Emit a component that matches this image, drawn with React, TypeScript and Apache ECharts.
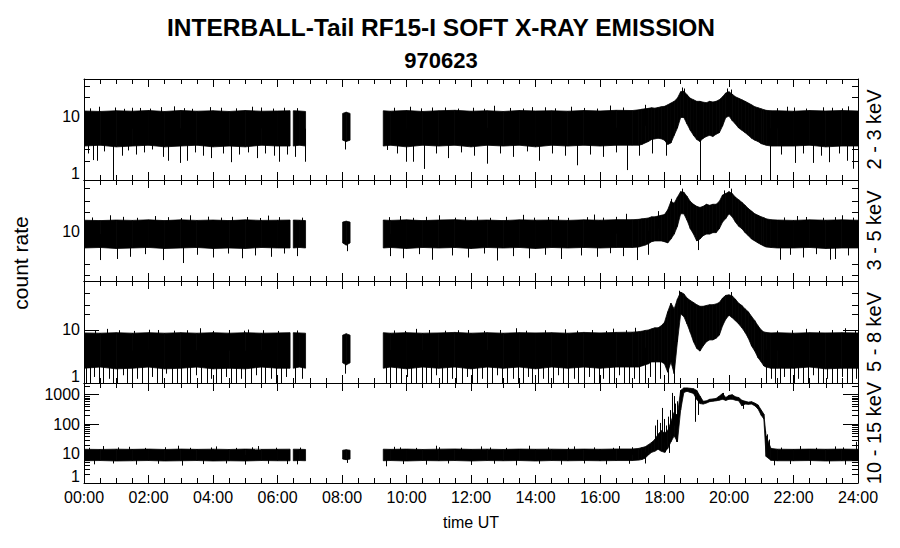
import React, { useEffect, useRef } from "react";
import * as echarts from "echarts";

// ---------- data (hours UT; null = data gap) ----------
const T = [
  0, 0.5, 1, 1.5, 2, 2.5, 3, 3.5, 4, 4.5, 5, 5.5, 6, 6.39,
  null,
  6.49, 6.68, 6.87,
  null,
  8.02, 8.13, 8.25,
  null,
  9.28, 9.5, 10, 10.5, 11, 11.5, 12, 12.5, 13, 13.5, 14, 14.5, 15, 15.5, 16, 16.5, 17,
  17.2, 17.3, 17.4, 17.5, 17.6, 17.7, 17.8, 17.9, 18.0, 18.1,
  18.2, 18.3, 18.4, 18.5, 18.6, 18.7, 18.8, 18.9, 19.0, 19.1,
  19.2, 19.3, 19.4, 19.5, 19.6, 19.7, 19.8, 19.9, 20.0, 20.1,
  20.2, 20.3, 20.4, 20.5, 20.6, 20.7, 20.8, 20.9, 21.0, 21.08, 21.15, 21.3,
  21.5, 22, 22.5, 23, 23.5, 24,
];

// 2 - 3 keV
const P1_HI = [
  12, 11.8, 12.1, 11.9, 12.2, 11.8, 12.2, 11.9, 12.1, 11.8, 12.2, 11.9, 12, 12.1,
  null,
  12.1, 12, 11.8,
  null,
  11, 11.5, 11,
  null,
  12.1, 11.9, 12.2, 11.8, 12.1, 12.3, 11.9, 12.1, 11.8, 12.2, 12, 12.1, 11.9, 12.2, 12, 12.3, 12.2,
  12.5, 12.8, 13, 13.2, 13.5, 13.3, 13.6, 14, 14.2, 15,
  16, 17, 19, 24, 24.5, 21.5, 19, 18, 17, 17,
  16.5, 16.2, 17, 16.6, 17, 18, 20, 23, 24, 22,
  20, 19, 18, 17, 16, 15, 14, 13.5, 13, 12.6, 12.3, 12.1,
  12.1, 11.9, 12.2, 12, 12.2, 12,
];
const P1_LO = [
  3.4, 3.5, 3.3, 3.4, 3.5, 3.3, 3.4, 3.5, 3.3, 3.4, 3.3, 3.5, 3.4, 3.4,
  null,
  3.4, 3.5, 3.4,
  null,
  4.2, 4, 4.2,
  null,
  3.4, 3.5, 3.3, 3.5, 3.4, 3.5, 3.3, 3.5, 3.4, 3.5, 3.3, 3.5, 3.4, 3.5, 3.4, 3.5, 3.5,
  3.5, 3.6, 3.8, 4, 4.3, 4.4, 4.5, 4.4, 4.2, 3.6,
  3.8, 5, 6.5, 9.5, 9.5, 7.5, 6, 5, 4.3, 4,
  4.5, 4.8, 5, 4.8, 5.2, 5.5, 7, 9.5, 10, 8.5,
  7.5, 6.5, 6, 5.5, 5, 4.5, 4.2, 4, 3.7, 3.6, 3.5, 3.4,
  3.4, 3.4, 3.5, 3.3, 3.4, 3.4,
];

// 3 - 5 keV
const P2_HI = [
  15, 14.8, 15.1, 14.9, 15.2, 14.8, 15.2, 14.9, 15.1, 14.8, 15.2, 14.9, 15, 15.1,
  null,
  15.1, 15, 14.8,
  null,
  14, 14.5, 14,
  null,
  15.1, 14.9, 15.2, 14.8, 15.1, 15.3, 14.9, 15.1, 14.8, 15.2, 15, 15.1, 14.9, 15.2, 15, 15.3, 15.3,
  15.5, 15.8, 16, 16.3, 17, 17, 17.5, 18, 18.5, 22,
  30, 28, 35, 43, 42, 36, 30, 27, 25, 24,
  25, 27, 26, 27, 27, 30, 38, 40, 43, 40,
  35, 32, 29, 26, 23, 21, 19, 18, 17, 16.5, 15.8, 15.3,
  15.1, 14.9, 15.2, 15, 15.2, 15,
];
const P2_LO = [
  5.4, 5.5, 5.3, 5.4, 5.5, 5.3, 5.4, 5.5, 5.3, 5.4, 5.3, 5.5, 5.4, 5.4,
  null,
  5.4, 5.5, 5.4,
  null,
  6.5, 6, 6.5,
  null,
  5.4, 5.5, 5.3, 5.5, 5.4, 5.5, 5.3, 5.5, 5.4, 5.5, 5.3, 5.5, 5.4, 5.5, 5.4, 5.5, 5.5,
  5.6, 5.8, 6, 6.3, 6.8, 7, 7, 7, 6.8, 6.5,
  7.5, 9, 12, 19, 19, 15, 11, 9, 7, 7.5,
  8.5, 9, 9, 9.5, 9.5, 11, 14, 16, 19, 17,
  14, 12, 11, 9.5, 8.5, 7.5, 7, 6.5, 6.1, 5.8, 5.6, 5.5,
  5.4, 5.4, 5.5, 5.3, 5.4, 5.4,
];

// 5 - 8 keV
const P3_HI = [
  8.8, 8.7, 8.9, 8.7, 8.9, 8.7, 8.9, 8.7, 8.9, 8.7, 8.9, 8.7, 8.8, 8.9,
  null,
  8.9, 8.8, 8.7,
  null,
  8, 8.5, 8,
  null,
  8.9, 8.7, 8.9, 8.7, 8.8, 9, 8.7, 8.9, 8.7, 8.9, 8.8, 8.9, 8.7, 9, 8.8, 9, 9.1,
  9.3, 9.5, 9.8, 10, 10.5, 11, 11, 12, 14, 22,
  32, 25, 38, 52, 48, 40, 36, 33, 30, 28,
  28, 29, 30, 30, 31, 33, 40, 45, 46, 44,
  38, 32, 29, 25, 22, 18, 15, 12, 10, 9.2, 9, 8.8,
  8.9, 8.7, 8.9, 8.8, 8.9, 8.8,
];
const P3_LO = [
  1.9, 2.0, 1.85, 1.9, 2.0, 1.85, 1.9, 2.0, 1.85, 1.9, 1.85, 2.0, 1.9, 1.9,
  null,
  1.9, 2.0, 1.9,
  null,
  2.4, 2.2, 2.4,
  null,
  1.9, 2.0, 1.85, 2.0, 1.9, 2.0, 1.85, 2.0, 1.9, 2.0, 1.85, 2.0, 1.9, 2.0, 1.9, 2.0, 2.0,
  2.0, 2.1, 2.2, 2.3, 2.5, 2.5, 2.5, 2.5, 2.3, 1.6,
  2.5, 1.5, 6, 20, 18, 13, 9, 6, 4.5, 4,
  5, 6, 6.5, 6.5, 7, 8, 12, 16, 19, 17,
  15, 13, 11, 9, 7, 5, 4, 3, 2.5, 2.1, 2.0, 1.9,
  1.9, 1.9, 2.0, 1.85, 1.9, 1.9,
];

// 10 - 15 keV
const P4_HI = [
  14, 13.8, 14.1, 13.9, 14.2, 13.8, 14.2, 13.9, 14.1, 13.8, 14.2, 13.9, 14, 14.1,
  null,
  14.1, 14, 13.8,
  null,
  13, 13.5, 13,
  null,
  14.1, 13.9, 14.2, 13.8, 14.1, 14.3, 13.9, 14.1, 13.8, 14.2, 14, 14.1, 13.9, 14.2, 14, 14.3, 14.3,
  15, 16, 17, 20, 24, 30, 45, 60, 50, 60,
  120, 250, 200, 1400, 1700, 1700, 1650, 1600, 1400, 900,
  600, 620, 700, 720, 750, 900, 1100, 800, 950, 1000,
  850, 800, 650, 600, 560, 580, 520, 450, 300, 220, 40, 15,
  14.1, 13.9, 14.2, 14, 14.2, 14,
];
const P4_LO = [
  5.7, 5.8, 5.6, 5.7, 5.8, 5.6, 5.7, 5.8, 5.6, 5.7, 5.6, 5.8, 5.7, 5.7,
  null,
  5.7, 5.8, 5.7,
  null,
  6.5, 6.2, 6.5,
  null,
  5.7, 5.8, 5.6, 5.8, 5.7, 5.8, 5.6, 5.8, 5.7, 5.8, 5.6, 5.8, 5.7, 5.8, 5.7, 5.8, 5.8,
  6.0, 6.3, 7, 9, 11, 12, 14, 12, 11, 15,
  25, 40, 25, 300, 1200, 1300, 1200, 1100, 700, 500,
  480, 520, 580, 600, 620, 650, 700, 640, 700, 700,
  650, 620, 420, 480, 470, 480, 420, 330, 200, 150, 8, 5.9,
  5.7, 5.7, 5.8, 5.6, 5.7, 5.7,
];

// single-sample excursions [hour, count rate]
const P1_SPIKES = [
  [0.12, 2.6], [0.29, 2.05], [0.39, 2.0], [0.62, 2.8], [0.9, 1.0], [1.17, 2.4], [1.35, 2.9], [1.6, 2.5],
  [1.85, 2.7], [2.1, 3.0], [2.46, 2.3], [2.6, 2.0], [2.98, 1.85], [3.2, 2.0], [3.45, 2.7], [3.7, 2.4],
  [3.95, 2.2], [4.3, 2.6], [4.55, 1.9], [4.8, 2.5], [5.1, 2.7], [5.35, 2.2], [5.6, 2.6], [5.9, 2.4],
  [6.05, 1.93], [6.3, 2.5], [6.55, 2.3], [6.85, 1.93], [8.1, 3.0], [9.39, 2.95], [9.7, 2.6], [9.97, 1.93],
  [10.2, 1.93], [10.55, 1.49], [10.9, 2.6], [11.3, 2.2], [11.7, 2.7], [12.1, 2.4], [12.5, 1.8], [12.9, 2.6],
  [13.3, 2.3], [13.75, 2.8], [14.1, 2.0], [14.5, 2.6], [14.9, 2.4], [15.3, 1.7], [15.7, 2.5], [16.1, 2.3],
  [16.5, 2.7], [16.83, 1.43], [17.2, 2.4], [17.6, 2.6], [18.05, 2.4], [19.1, 1.0], [21.27, 1.0], [21.6, 2.5],
  [22.05, 1.85], [22.3, 2.6], [22.6, 1.85], [22.85, 2.4], [23.1, 1.9], [23.4, 2.6], [23.65, 2.0], [23.85, 1.5],
  [0.45, 14], [1.5, 13.5], [2.8, 14.2], [3.9, 13.8], [5.2, 14], [6.2, 13.5], [10.1, 14], [11.2, 13.6],
  [12.7, 14.5], [13.9, 13.8], [15.1, 14], [16.3, 14.6], [17.4, 15], [18.55, 28], [18.62, 27], [19.95, 27],
  [20.05, 26], [21.8, 14], [22.9, 13.7], [23.7, 14.2],
  [0.2, 13.2], [0.95, 13.6], [1.25, 13], [1.75, 13.4], [2.05, 13.1], [2.4, 13.8], [3.1, 13.3], [3.35, 13],
  [4.25, 13.5], [4.7, 13.2], [5.5, 13.6], [5.85, 13.1], [6.6, 13.3], [9.6, 13.5], [10.45, 13.2], [10.8, 13.6],
  [11.6, 13.1], [12.05, 13.5], [12.4, 13], [13.2, 13.4], [13.6, 13.1], [14.3, 13.7], [14.6, 13.2], [15.5, 13.4],
  [15.9, 13.1], [16.7, 13.6], [21.5, 13.3], [22.0, 13.6], [22.4, 13.1], [23.2, 13.5], [23.5, 13.2],
];
const P2_SPIKES = [
  [0.5, 3.46], [1.01, 3.6], [1.43, 3.9], [1.9, 4.3], [2.45, 3.46], [3.06, 3.1], [3.5, 4.2], [4.0, 3.8],
  [4.45, 4.4], [4.9, 3.7], [5.3, 4.1], [5.8, 3.9], [6.2, 4.4], [6.6, 4.0], [8.15, 4.8], [9.5, 4.0],
  [9.9, 3.7], [10.4, 4.3], [10.8, 3.5], [11.4, 4.1], [11.9, 3.8], [12.4, 4.4], [12.8, 3.4], [13.3, 4.0],
  [13.8, 3.7], [14.3, 4.2], [14.8, 3.6], [15.4, 4.1], [15.9, 3.9], [16.3, 4.45], [16.7, 4.0], [17.14, 3.46],
  [17.5, 4.2], [19.05, 5.0], [21.58, 3.5], [21.9, 4.2], [22.3, 3.8], [22.7, 4.3], [23.13, 3.5], [23.3, 3.6],
  [23.7, 4.1],
  [0.8, 18], [2.2, 17.5], [3.3, 18], [4.6, 17], [5.7, 17.8], [9.8, 17.5], [11.0, 18], [12.2, 17.2],
  [13.6, 18.3], [14.7, 17.5], [15.8, 18.5], [16.8, 19], [17.8, 21], [18.2, 33], [18.55, 48], [19.85, 45],
  [20.05, 48], [22.1, 17.5], [23.5, 18],
  [0.25, 16.6], [1.2, 17], [1.65, 16.4], [2.6, 16.8], [3.0, 16.3], [3.85, 17.1], [4.25, 16.5], [5.05, 16.9],
  [5.45, 16.3], [6.05, 16.8], [6.75, 16.5], [9.45, 16.8], [10.2, 16.4], [10.6, 17], [11.5, 16.5], [11.8, 16.9],
  [12.6, 16.4], [13.1, 17], [13.95, 16.5], [14.4, 16.9], [15.0, 16.4], [15.6, 16.8], [16.1, 16.5], [16.5, 17],
  [21.7, 16.6], [22.4, 16.9], [22.9, 16.4], [23.3, 16.8], [23.85, 16.5],
];
const P3_SPIKES = [
  [0.05, 1], [0.2, 1], [0.31, 1.3], [0.48, 1], [0.6, 1], [0.77, 1.2], [0.9, 1], [1.02, 1], [1.2, 1.4],
  [1.33, 1], [1.5, 1], [1.64, 1.2], [1.8, 1], [1.97, 1], [2.1, 1.3], [2.25, 1], [2.42, 1], [2.55, 1.5],
  [2.72, 1], [2.88, 1], [3.0, 1.2], [3.18, 1], [3.3, 1], [3.47, 1.4], [3.62, 1], [3.8, 1], [3.93, 1.2],
  [4.1, 1], [4.24, 1], [4.4, 1.3], [4.57, 1], [4.7, 1], [4.88, 1.2], [5.0, 1], [5.17, 1], [5.33, 1.4],
  [5.48, 1], [5.62, 1], [5.8, 1.2], [5.95, 1], [6.1, 1], [6.25, 1.3], [6.55, 1], [6.75, 1.2], [8.1, 1.5],
  [9.35, 1], [9.5, 1.2], [9.68, 1], [9.82, 1], [10.0, 1.3], [10.15, 1], [10.3, 1], [10.48, 1.2], [10.6, 1],
  [10.77, 1], [10.92, 1.4], [11.1, 1], [11.25, 1], [11.4, 1.2], [11.55, 1], [11.72, 1], [11.88, 1.3],
  [12.02, 1], [12.2, 1], [12.35, 1.2], [12.5, 1], [12.66, 1], [12.8, 1.4], [12.97, 1], [13.12, 1],
  [13.3, 1.2], [13.45, 1], [13.6, 1], [13.77, 1.3], [13.9, 1], [14.08, 1], [14.22, 1.2], [14.4, 1],
  [14.55, 1], [14.7, 1.4], [14.86, 1], [15.0, 1], [15.18, 1.2], [15.32, 1], [15.5, 1], [15.65, 1.3],
  [15.8, 1], [15.97, 1], [16.1, 1.2], [16.28, 1], [16.42, 1], [16.6, 1.4], [16.75, 1], [16.9, 1],
  [17.05, 1.2], [17.22, 1], [17.38, 1], [17.55, 1.3], [17.7, 1], [17.85, 1.2], [18.12, 1], [18.3, 1],
  [21.15, 1], [21.3, 1.2], [21.42, 1], [21.58, 1], [21.7, 1.3], [21.88, 1], [22.0, 1], [22.15, 1.2],
  [22.3, 1], [22.45, 1], [22.6, 1.4], [22.75, 1], [22.9, 1], [23.05, 1.2], [23.2, 1], [23.35, 1],
  [23.5, 1.3], [23.65, 1], [23.8, 1], [23.95, 1.2],
  [0.7, 10.5], [2.3, 10], [3.6, 10.8], [5.1, 10.2], [10.3, 10.5], [11.9, 10], [13.4, 10.8], [14.9, 10.3],
  [16.4, 10.6], [17.1, 11], [18.45, 55], [20.05, 52], [22.4, 10.5], [23.6, 10.8],
  [0.35, 9.7], [1.1, 9.9], [1.55, 9.6], [2.0, 10.1], [2.8, 9.7], [3.2, 9.9], [4.0, 9.6], [4.5, 10],
  [4.95, 9.7], [5.55, 9.9], [6.0, 9.6], [6.6, 9.8], [9.6, 9.8], [9.95, 9.6], [10.7, 10], [11.2, 9.7],
  [11.6, 9.9], [12.4, 9.6], [12.9, 10], [13.7, 9.7], [14.3, 9.9], [15.3, 9.7], [15.75, 10], [16.2, 9.6],
  [16.8, 9.9], [21.5, 9.7], [21.95, 9.9], [22.8, 9.6], [23.2, 10], [23.9, 9.7],
];
const P4_SPIKES = [
  [0.3, 4.3], [0.9, 4.6], [1.6, 4.2], [2.3, 4.5], [3.05, 3.9], [3.7, 4.4], [4.4, 4.6], [5.0, 4.2],
  [5.7, 4.5], [6.3, 4.4], [6.6, 4.3], [8.15, 4.8], [9.35, 3.7], [9.9, 4.4], [10.6, 4.2], [11.3, 4.6],
  [12.0, 4.1], [12.7, 4.5], [13.4, 4.0], [14.1, 4.5], [14.8, 4.2], [15.5, 4.6], [16.2, 4.3], [16.9, 4.5],
  [17.4, 4.6], [21.4, 4.0], [21.9, 4.4], [22.5, 4.1], [23.1, 4.5], [23.6, 4.2],
  [0.6, 18], [1.4, 17], [2.9, 18.5], [4.1, 17.5], [5.4, 18], [9.6, 17], [10.9, 18.5], [12.3, 17.5],
  [13.8, 18.5], [15.2, 17.5], [16.6, 18], [22.2, 18], [23.3, 17.5], [23.95, 25],
  [17.72, 90], [17.78, 140], [17.86, 110], [17.91, 355], [17.98, 150], [18.04, 90], [18.1, 180],
  [18.18, 300], [18.24, 1150], [18.28, 900], [18.33, 500], [18.4, 600], [18.02, 11], [18.13, 10.5],
  [18.37, 25], [18.95, 120], [19.05, 205], [19.82, 1150], [20.42, 330], [21.12, 60], [21.18, 45], [21.25, 30],
  [0.15, 15.8], [1.05, 16.2], [1.9, 15.6], [2.5, 16.4], [3.3, 15.7], [3.95, 16.1], [4.7, 15.6], [5.2, 16.3],
  [5.95, 15.8], [6.7, 16], [9.8, 16.2], [10.3, 15.6], [11.0, 16.4], [11.7, 15.8], [12.6, 16.1], [13.1, 15.6],
  [14.4, 16.3], [15.0, 15.8], [15.8, 16.2], [16.4, 15.7], [17.0, 16.4], [21.6, 16], [22.7, 15.7], [23.55, 16.2],
];

// axis ranges and tick values
const Y_RANGES = [[1, 38], [1.6, 66], [1, 84], [1, 2500]];
const MINOR_TICKS = [
  [2, 3, 20, 30],
  [2, 3, 20, 30, 50],
  [2, 3, 20, 30, 50],
  [2, 3, 4, 5, 6, 7, 8, 9, 20, 30, 40, 50, 60, 70, 80, 90, 200, 300, 400, 500, 600, 700, 800, 900, 2000],
];
const CHANNELS = ["2 - 3 keV", "3 - 5 keV", "5 - 8 keV", "10 - 15 keV"];
const X_MIN = 0, X_MAX = 24, X_STEP = 2;

const HIS = [P1_HI, P2_HI, P3_HI, P4_HI];
const LOS = [P1_LO, P2_LO, P3_LO, P4_LO];
const SPIKES = [P1_SPIKES, P2_SPIKES, P3_SPIKES, P4_SPIKES];

// ---------- layout ----------
const PANELS = [
  { top: 79, height: 101 },
  { top: 180, height: 101 },
  { top: 281, height: 102 },
  { top: 383, height: 100 },
];
const LEFT = 84, WIDTH = 774;
const FONT = "'Liberation Sans', Arial, Helvetica, sans-serif";
const BLACK = "#000";

function bandMid(hi: any[], lo: any[], t: number) {
  for (let i = 0; i < T.length - 1; i++) {
    const a = T[i], b = T[i + 1];
    if (a == null || b == null) continue;
    if (t >= a && t <= b) {
      const f = (t - a) / (b - a);
      const la = Math.log10(Math.sqrt(hi[i] * lo[i]));
      const lb = Math.log10(Math.sqrt(hi[i + 1] * lo[i + 1]));
      return Math.pow(10, la + f * (lb - la));
    }
  }
  return null;
}

function buildOption() {
  const grid = PANELS.map((p) => ({ left: LEFT, width: WIDTH, top: p.top, height: p.height }));
  const axisLine = { show: true, onZero: false, lineStyle: { color: BLACK, width: 1 } };

  const xAxis: any[] = [];
  for (const pos of ["bottom", "top"]) {
    PANELS.forEach((_, i) => {
      const labelled = pos === "bottom" && i === 3;
      xAxis.push({
        type: "value",
        gridIndex: i,
        position: pos,
        min: X_MIN,
        max: X_MAX,
        interval: X_STEP,
        axisLine,
        axisTick: { show: true, inside: true, length: 8, lineStyle: { color: BLACK } },
        minorTick: { show: true, splitNumber: 4, length: 5, lineStyle: { color: BLACK } },
        splitLine: { show: false },
        minorSplitLine: { show: false },
        axisLabel: {
          show: labelled,
          margin: 6,
          color: BLACK,
          fontFamily: FONT,
          fontSize: 16,
          formatter: (v: number) => (v < 10 ? "0" : "") + v + ":00",
        },
        name: labelled ? "time UT" : "",
        nameLocation: "middle",
        nameGap: 31,
        nameTextStyle: { color: BLACK, fontFamily: FONT, fontSize: 16 },
      });
    });
  }

  const yAxis: any[] = [];
  for (const pos of ["left", "right"]) {
    PANELS.forEach((_, i) => {
      yAxis.push({
        type: "log",
        logBase: 10,
        gridIndex: i,
        position: pos,
        min: Y_RANGES[i][0],
        max: Y_RANGES[i][1],
        axisLine,
        axisTick: { show: true, inside: true, length: 15, lineStyle: { color: BLACK } },
        splitLine: { show: false },
        axisLabel: {
          show: pos === "left",
          margin: 4,
          color: BLACK,
          fontFamily: FONT,
          fontSize: 16,
          formatter: (v: number) => {
            const l = Math.log10(v);
            if (Math.abs(l - Math.round(l)) > 1e-6) return "";
            const n = Math.round(Math.pow(10, Math.round(l)));
            return n === 1 ? "{lo|1}" : String(n);
          },
          rich: { lo: { fontFamily: FONT, fontSize: 16, color: BLACK, padding: [0, 0, 14, 0] } },
        },
      });
    });
  }

  const series: any[] = [];
  PANELS.forEach((_, p) => {
    const hi = HIS[p], lo = LOS[p];
    const bandData: any[] = [];
    for (let i = 0; i < T.length - 1; i++) {
      if (T[i] == null || T[i + 1] == null) continue;
      bandData.push([T[i], lo[i], hi[i], i]);
    }
    series.push({
      type: "custom",
      xAxisIndex: p,
      yAxisIndex: p,
      silent: true,
      clip: true,
      data: bandData,
      renderItem: (params: any, api: any) => {
        const i = api.value(3);
        const a = api.coord([T[i], hi[i]]);
        const b = api.coord([T[i + 1], hi[i + 1]]);
        const c = api.coord([T[i + 1], lo[i + 1]]);
        const d = api.coord([T[i], lo[i]]);
        return {
          type: "polygon",
          shape: { points: [a, b, c, d] },
          style: { fill: BLACK, stroke: BLACK, lineWidth: 0.8 },
        };
      },
    });

    const spikeData = SPIKES[p]
      .map(([t, v]) => {
        const m = bandMid(hi, lo, t);
        return m == null ? null : [t, v, m];
      })
      .filter(Boolean);
    series.push({
      type: "custom",
      xAxisIndex: p,
      yAxisIndex: p,
      silent: true,
      clip: true,
      data: spikeData,
      renderItem: (params: any, api: any) => {
        const a = api.coord([api.value(0), api.value(1)]);
        const b = api.coord([api.value(0), api.value(2)]);
        const x = Math.round(a[0]) + 0.5;
        return {
          type: "line",
          shape: { x1: x, y1: a[1], x2: x, y2: b[1] },
          style: { stroke: BLACK, lineWidth: 1 },
        };
      },
    });

    series.push({
      type: "custom",
      xAxisIndex: p,
      yAxisIndex: p,
      silent: true,
      data: MINOR_TICKS[p].map((v) => [X_MIN, v]),
      renderItem: (params: any, api: any) => {
        const cs = params.coordSys;
        const y = Math.round(api.coord([X_MIN, api.value(1)])[1]) + 0.5;
        const st = { stroke: BLACK, lineWidth: 1 };
        return {
          type: "group",
          children: [
            { type: "line", shape: { x1: cs.x, y1: y, x2: cs.x + 6, y2: y }, style: st },
            { type: "line", shape: { x1: cs.x + cs.width - 6, y1: y, x2: cs.x + cs.width, y2: y }, style: st },
          ],
        };
      },
    });
  });

  const txt = (text: string, x: number, y: number, size: number, bold: boolean, rot = 0) => ({
    type: "text",
    x,
    y,
    rotation: rot,
    silent: true,
    style: {
      text,
      fill: BLACK,
      fontFamily: FONT,
      fontSize: size,
      fontWeight: bold ? "bold" : "normal",
      textAlign: "center",
      textVerticalAlign: "middle",
      align: "center",
      verticalAlign: "middle",
    },
  });

  const graphic: any[] = [
    txt("INTERBALL-Tail RF15-I SOFT X-RAY EMISSION", 441, 27, 24.5, true),
    txt("970623", 441, 60, 22, true),
    txt("count rate", 20, 263, 21, false, Math.PI / 2),
  ];
  PANELS.forEach((p, i) => {
    graphic.push(txt(CHANNELS[i], 874, p.top + p.height / 2, 20, false, Math.PI / 2));
  });

  return {
    animation: false,
    backgroundColor: "#fff",
    grid,
    xAxis,
    yAxis,
    series,
    graphic,
  };
}

export default function App() {
  const ref = useRef<HTMLDivElement>(null);
  useEffect(() => {
    document.body.style.margin = "0";
    if (!ref.current) return;
    const chart = echarts.init(ref.current, undefined, { renderer: "svg" });
    chart.setOption(buildOption() as any);
    return () => chart.dispose();
  }, []);
  return (
    <div
      ref={ref}
      style={{ position: "fixed", left: 0, top: 0, width: 900, height: 548, background: "#fff" }}
    />
  );
}
